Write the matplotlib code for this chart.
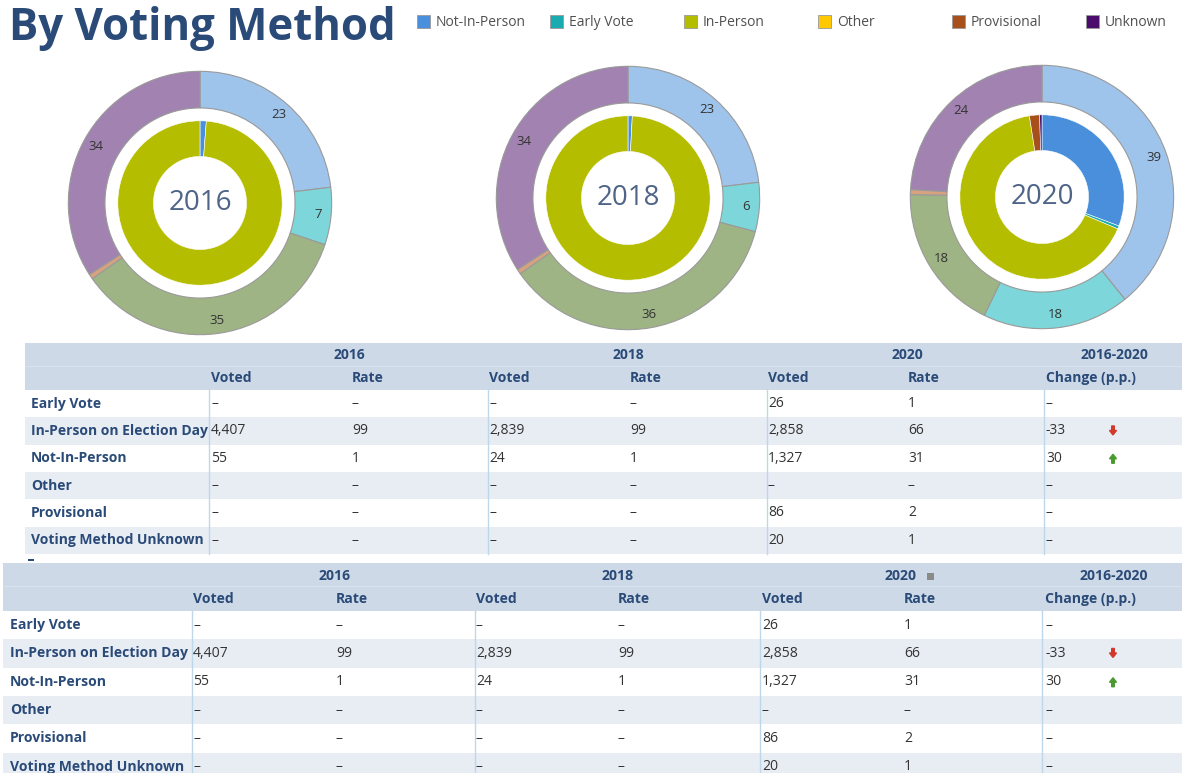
import matplotlib.pyplot as plt
from matplotlib.patches import Rectangle, FancyArrow

plt.rcParams['font.family'] = ['Open Sans', 'DejaVu Sans']

W, H = 1182, 773

# === DATA ===
years = ["2016", "2018", "2020"]
methods = ["Not-In-Person", "Early Vote", "In-Person", "Other", "Provisional", "Unknown"]
method_colors = ["#4A8FDB", "#1AABB0", "#B5BD00", "#FFC800", "#A8501B", "#4B0C6B"]
outer_colors = ["#9EC4EC", "#7DD6DA", "#9EB484", "#F5D58A", "#D9A27E", "#A182B0"]

# outer ring shares (%), same method order as the legend
outer_2016 = [23, 7, 35, 0, 0.6, 34]
outer_2018 = [23, 6, 36, 0, 0.6, 34]
outer_2020 = [39, 18, 18, 0, 0.6, 24]

# table rows
row_labels = ["Early Vote", "In-Person on Election Day", "Not-In-Person",
              "Other", "Provisional", "Voting Method Unknown"]
voted_2016 = [None, 4407, 55, None, None, None]
rate_2016 = [None, 99, 1, None, None, None]
voted_2018 = [None, 2839, 24, None, None, None]
rate_2018 = [None, 99, 1, None, None, None]
voted_2020 = [26, 2858, 1327, None, 86, 20]
rate_2020 = [1, 66, 31, None, 2, 1]
change = [None, -33, 30, None, None, None]

# table row index for each legend method (inner ring order)
ring_order = [2, 0, 1, 3, 4, 5]

navy = "#2A4A78"
text_c = "#333333"

fig = plt.figure(figsize=(W / 100, H / 100), dpi=100)
bg = fig.add_axes([0, 0, 1, 1])
bg.set_xlim(0, W)
bg.set_ylim(H, 0)
bg.axis("off")

# === TITLE + LEGEND ===
bg.text(9, 40, "By Voting Method", fontsize=31.5, fontweight="bold", color=navy, va="baseline")
legend_x = [417, 550, 684, 818, 952, 1086]
for x, name, col in zip(legend_x, methods, method_colors):
    bg.add_patch(Rectangle((x, 15), 13, 13, facecolor=col, edgecolor="#999999", lw=0.6))
    bg.text(x + 19, 22, name, fontsize=10, color="#505050", va="center")


# === DONUTS ===
def donut(cx, cy, year, outer, inner):
    R = 133
    ax = fig.add_axes([(cx - R) / W, 1 - (cy + R) / H, 2 * R / W, 2 * R / H])
    o_vals = [v for v in outer if v > 0]
    o_cols = [c for v, c in zip(outer, outer_colors) if v > 0]
    o_labs = iter(["%d" % round(v) if v >= 1 else "" for v in o_vals])
    _, _, autotexts = ax.pie(o_vals, colors=o_cols, radius=1, startangle=90, counterclock=False,
                             wedgeprops=dict(width=37 / R, edgecolor="#9a9a9a", linewidth=0.8),
                             autopct=lambda p: next(o_labs), pctdistance=0.9)
    for t in autotexts:
        t.set_fontsize(9.5)
        t.set_color(text_c)
    i_vals = [v for v in inner if v > 0]
    i_cols = [c for v, c in zip(inner, method_colors) if v > 0]
    ax.pie(i_vals, colors=i_cols, radius=83 / R, startangle=90, counterclock=False,
           wedgeprops=dict(width=36 / R, edgecolor="white", linewidth=0.4))
    ax.text(0, 0, year, fontsize=20, color="#4E6588", ha="center", va="center")
    ax.set_xlim(-1.01, 1.01)
    ax.set_ylim(-1.01, 1.01)


voted_all = [voted_2016, voted_2018, voted_2020]
centers = [(200, 203), (628, 198), (1042, 197)]
for (cx, cy), year, outer, voted in zip(centers, years, [outer_2016, outer_2018, outer_2020], voted_all):
    inner = [voted[i] or 0 for i in ring_order]
    donut(cx, cy, year, outer, inner)


# === TABLES ===
def fmt(v):
    return "–" if v is None else f"{v:,}"


def draw_table(left, top, head_h, year_y, sub_y, row_h, label_x, col_x, seps, year_cx, fs, sort_icon=False):
    right = W
    bg.add_patch(Rectangle((left, top), right - left, head_h, facecolor="#CDD9E6", edgecolor="none"))
    bg.plot([left, right], [top + head_h / 2 - 1, top + head_h / 2 - 1], color="#D8E2EC", lw=0.8)
    row_top = top + head_h
    for i in range(len(row_labels)):
        y0 = row_top + i * row_h
        col = "#E8EDF4" if i % 2 else "white"
        bg.add_patch(Rectangle((left, y0), right - left, row_h, facecolor=col, edgecolor="none"))
    bottom = row_top + len(row_labels) * row_h
    for s in seps:
        bg.plot([s, s], [row_top, bottom], color="#BFD7EA", lw=1)
    for cx, y in zip(year_cx, years + ["2016-2020"]):
        bg.text(cx, year_y, y, fontsize=fs, fontweight="bold", color=navy, ha="center", va="center")
    if sort_icon:
        bg.add_patch(Rectangle((year_cx[2] + 26, year_y - 3.5), 7, 7, facecolor="#8a8a8a", edgecolor="none"))
    subs = ["Voted", "Rate"] * 3 + ["Change (p.p.)"]
    for x, s in zip(col_x, subs):
        bg.text(x, sub_y, s, fontsize=fs, fontweight="bold", color=navy, va="center")
    cols = [voted_2016, rate_2016, voted_2018, rate_2018, voted_2020, rate_2020, change]
    for i, lab in enumerate(row_labels):
        yc = row_top + (i + 0.5) * row_h
        bg.text(label_x, yc, lab, fontsize=fs, fontweight="bold", color=navy, va="center")
        for x, c in zip(col_x, cols):
            bg.text(x, yc, fmt(c[i]), fontsize=fs, color=text_c, va="center")
        if change[i] is not None:
            ax_x = 1113
            if change[i] < 0:
                bg.add_patch(FancyArrow(ax_x, yc - 5, 0, 9, width=2.6, head_width=7, head_length=4.5,
                                        length_includes_head=True, color="#D2392B"))
            else:
                bg.add_patch(FancyArrow(ax_x, yc + 5, 0, -9, width=2.6, head_width=7, head_length=4.5,
                                        length_includes_head=True, color="#4B9A31"))


draw_table(25, 343, 47, 355, 378, 27.3, 31,
           [211, 352, 489, 630, 768, 908, 1046], [209, 488, 767, 1044],
           [349, 628, 907, 1114], 10)
bg.add_patch(Rectangle((28, 559), 6, 2, facecolor=navy, edgecolor="none"))
draw_table(3, 563, 48, 576, 599, 28.3, 10,
           [193, 336, 476, 618, 762, 904, 1045], [192, 475, 760, 1042],
           [335, 618, 901, 1114], 10.1, sort_icon=True)

fig.savefig("out.png", dpi=100)
